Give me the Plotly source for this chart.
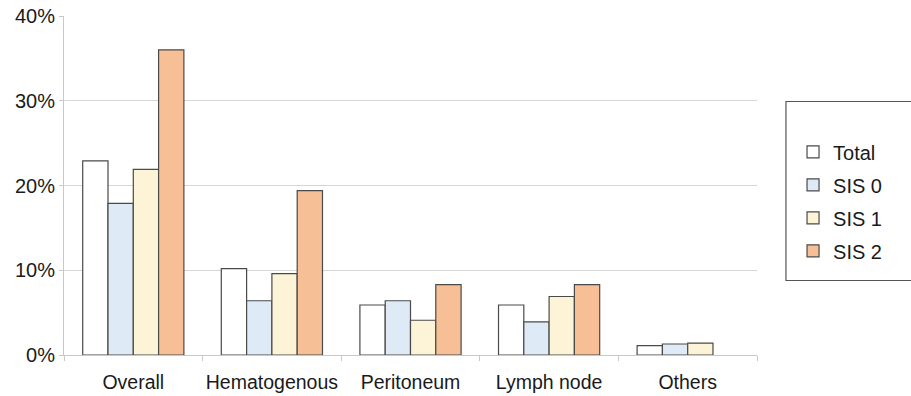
import plotly.graph_objects as go

# Metastasis rate by site and SIS group
categories = ["Overall", "Hematogenous", "Peritoneum", "Lymph node", "Others"]
series_names = ["Total", "SIS 0", "SIS 1", "SIS 2"]
total = [22.9, 10.2, 5.9, 5.9, 1.1]
sis0 = [17.9, 6.4, 6.4, 3.9, 1.3]
sis1 = [21.9, 9.6, 4.1, 6.9, 1.4]
sis2 = [36.0, 19.4, 8.3, 8.3, None]
y_ticks = [0, 10, 20, 30, 40]
y_tick_labels = ["0%", "10%", "20%", "30%", "40%"]

colors = ["#ffffff", "#dfeaf7", "#fdf3d6", "#f7bf95"]
font_family = "Liberation Sans, Arial, sans-serif"

fig = go.Figure()
for i, (name, vals) in enumerate(zip(series_names, [total, sis0, sis1, sis2])):
    fig.add_trace(go.Bar(
        name=name,
        x=categories,
        y=vals,
        marker=dict(color=colors[i], line=dict(color="#4a4a4a", width=1.2)),
        legendgroup=name,
    ))

fig.update_layout(
    width=911,
    height=396,
    margin=dict(l=64, r=154, t=16, b=41, autoexpand=False),
    paper_bgcolor="white",
    plot_bgcolor="white",
    barmode="group",
    bargap=0.27,
    bargroupgap=0,
    font=dict(family=font_family, size=20, color="#1a1a1a"),
    showlegend=True,
    legend=dict(
        x=1.052, y=0.657, xanchor="left", yanchor="top",
        font=dict(size=20, color="#1a1a1a"),
        traceorder="grouped",
        tracegroupgap=4,
        bgcolor="rgba(0,0,0,0)",
        borderwidth=0,
        itemwidth=30,
    ),
    xaxis=dict(
        type="category",
        automargin=False,
        tickangle=0,
        showgrid=False,
        showline=True,
        linecolor="#c8c8c8",
        linewidth=1,
        ticks="outside",
        tickson="boundaries",
        ticklen=5,
        tickcolor="#c8c8c8",
        tickfont=dict(size=19.5),
        ticklabelstandoff=10,
    ),
    yaxis=dict(
        range=[0, 40],
        automargin=False,
        tickvals=y_ticks,
        ticktext=y_tick_labels,
        showgrid=True,
        gridcolor="#d6d6d6",
        gridwidth=1,
        showline=True,
        linecolor="#c8c8c8",
        ticks="outside",
        ticklen=4,
        tickcolor="#c8c8c8",
        tickfont=dict(size=20),
        zeroline=False,
    ),
    shapes=[dict(
        type="rect", xref="paper", yref="paper",
        x0=1.0418, x1=1.225, y0=(355 - 280.5) / 339, y1=(355 - 101.5) / 339,
        line=dict(color="#555555", width=1.2), fillcolor="rgba(0,0,0,0)",
        layer="below",
    )],
)

fig.write_html("out.html")
